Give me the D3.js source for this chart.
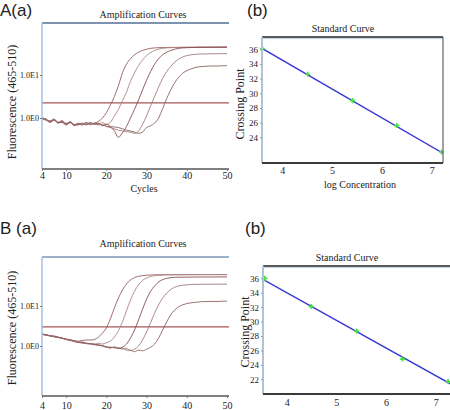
<!DOCTYPE html>
<html>
<head>
<meta charset="utf-8">
<script src="https://cdn.jsdelivr.net/npm/d3@7"></script>
<style>
  body { margin: 0; background: #fff; }
  svg { display: block; }
</style>
</head>
<body>
<div id="chart"></div>
<script>
// cycles 4..50, one fluorescence reading per cycle
const cycles = d3.range(4, 51);

// A(a) amplification curves
const ampA1 = [1.0,0.93,0.83,0.95,0.79,0.87,0.72,0.83,0.69,0.76,0.71,0.79,0.72,0.76,0.83,1.0,1.32,2.0,3.16,5.62,11.2,17.8,24,29.5,33.9,37.2,39.8,41.7,42.7,
  43.2,43.5,43.7,43.7,43.9,44,44,44.2,44,44.2,44.4,44.2,44.4,44.2,44.4,44.2,44.4,44.4];
const ampA2 = [0.95,0.89,0.87,0.91,0.76,0.83,0.76,0.79,0.66,0.72,0.68,0.74,0.69,0.76,0.71,0.79,0.71,0.79,1.12,1.58,2.51,3.98,7.08,11.2,16.6,22.4,28.2,33.1,37.2,39.8,41.7,42.7,
  43.2,43.5,43.7,43.9,44,44.2,44.2,44.4,44.4,44.4,44.6,44.4,44.6,44.6,44.6];
const ampA3 = [1.0,0.91,0.79,0.89,0.79,0.79,0.69,0.79,0.71,0.69,0.76,0.71,0.79,0.72,0.76,0.66,0.72,0.63,0.5,0.355,0.45,0.63,1.0,1.58,2.63,4.47,7.59,12.0,17.8,24,29.5,33.9,37.2,39.8,41.7,42.7,
  43.2,43.5,43.7,43.9,44,44,44.2,44.2,44.2,44.4,44.4];
const ampA4 = [0.98,0.89,0.85,0.93,0.78,0.85,0.74,0.81,0.68,0.74,0.72,0.78,0.71,0.74,0.69,0.72,0.63,0.6,0.56,0.52,0.5,0.48,0.47,0.44,0.5,0.71,1.12,1.91,3.16,5.25,8.32,12.0,15.8,20,23.4,26.3,28.2,29.5,30.2,
  30.6,30.9,30.9,31.2,31.2,31.2,31.4,31.4];
const ampA5 = [1.0,0.95,0.81,0.91,0.76,0.81,0.71,0.78,0.68,0.71,0.74,0.69,0.76,0.71,0.74,0.68,0.65,0.63,0.62,0.6,0.56,0.52,0.5,0.47,0.44,0.47,0.6,0.66,0.76,1.0,1.66,2.82,4.47,6.61,8.91,11.0,12.6,13.8,14.8,15.5,15.8,
  16.0,16.2,16.2,16.2,16.4,16.4];
const thresholdA = 2.24;

// B(a) amplification curves
const ampB1 = [2.0,1.91,1.82,1.74,1.66,1.58,1.48,1.41,1.35,1.32,1.38,1.41,1.41,1.45,1.66,2.09,2.82,4.79,8.91,15.8,25.1,35.5,44.7,51.3,55,57.5,58.9,
  59.5,60,60.3,60.3,60.5,60.5,60.8,60.8,60.8,61,61,61,61,61,61,61,61,61,61,61];
const ampB2 = [1.95,1.86,1.78,1.7,1.62,1.55,1.45,1.38,1.29,1.23,1.17,1.15,1.12,1.12,1.17,1.12,1.2,1.32,1.66,2.4,3.98,7.59,14.1,23.4,33.9,43.7,50.1,55,57.5,58.9,
  59.5,60,60.3,60.3,60.5,60.5,60.5,60.8,60.8,60.8,61,61,61,61,61,61,61];
const ampB3 = [2.0,1.86,1.82,1.7,1.66,1.55,1.48,1.38,1.32,1.23,1.26,1.17,1.15,1.1,1.07,1.02,0.95,0.89,0.95,0.87,0.93,1.12,1.58,2.51,4.47,8.32,14.8,23.4,31.6,39.8,45.7,49,51.3,
  52,52.5,52.5,52.8,52.8,53,53,53,53.2,53.2,53.2,53.2,53.4,53.4];
const ampB4 = [1.95,1.91,1.78,1.74,1.62,1.58,1.45,1.41,1.29,1.26,1.2,1.15,1.12,1.07,1.05,1.0,0.93,0.95,0.89,0.91,0.83,0.89,0.76,0.83,1.0,1.41,2.24,3.8,6.61,10.7,15.8,20.9,25.7,29.5,31.6,33.1,33.9,
  34.3,34.7,34.7,35,35,35,35.2,35.2,35.2,35.2];
const ampB5 = [2.0,1.91,1.78,1.78,1.66,1.58,1.48,1.45,1.35,1.26,1.23,1.17,1.15,1.1,1.05,1.02,0.95,0.91,0.93,0.87,0.89,0.79,0.79,0.72,0.79,0.76,0.83,0.93,1.12,1.58,2.51,3.98,6.03,7.94,9.55,10.7,11.5,12.0,12.3,12.6,
  12.9,12.9,13,13,13,13.2,13.2];
const thresholdB = 3.0;

const cycleTicks = [4, 10, 20, 30, 40, 50];
const fluorTicks = [1, 10];
const fluorLabels = ["1.0E0", "1.0E1"];

// standard curves
const logConcA = [3.6, 4.51, 5.41, 6.30, 7.2];
const crossA = [36.1, 32.6, 29.0, 25.6, 22.0];
const fitConcA = [3.586, 7.233];
const fitCrossA = [36.15, 21.8];
const logConcB = [3.56, 4.49, 5.41, 6.33, 7.25];
const crossB = [36.0, 32.1, 28.7, 24.8, 21.7];
const fitConcB = [3.52, 7.3];
const fitCrossB = [35.86, 21.35];
const concTicks = [4, 5, 6, 7];
const crossTicksA = [24, 26, 28, 30, 32, 34, 36];
const crossTicksB = [22, 24, 26, 28, 30, 32, 34, 36];

const serif = "'Liberation Serif','Times New Roman','DejaVu Serif',serif";
const sans = "'Liberation Sans','DejaVu Sans',sans-serif";
const curveColors = ["#955c5c", "#ac8484", "#8a4c4c", "#a47a7a", "#8e6262"];

const svg = d3.select("#chart").append("svg")
    .attr("width", 450)
    .attr("height", 410)
    .attr("font-family", serif);

function label(txt, x, y, size, family, anchor) {
    return svg.append("text")
        .attr("x", x).attr("y", y)
        .attr("text-anchor", anchor || "middle")
        .attr("font-family", family)
        .attr("font-size", size)
        .attr("fill", "#222")
        .text(txt);
}

function styleAxis(a, size) {
    a.attr("font-family", serif).attr("font-size", size);
    a.select(".domain").remove();
    a.selectAll("text").attr("fill", "#222");
}

function ampPanel(p) {
    const x = d3.scaleLinear().domain([4, 50]).range([p.left, p.left + 185]);
    // log axis: positions of 1.0E0 and 1.0E1
    const y = d3.scaleLog().domain([1, 10]).range([p.y1, p.y10]);
    const g = svg.append("g");

    g.append("clipPath").attr("id", p.id)
      .append("rect")
        .attr("x", p.left).attr("y", p.top)
        .attr("width", p.right - p.left).attr("height", p.bottom - p.top);

    const plot = g.append("g").attr("clip-path", `url(#${p.id})`);

    plot.append("line")
        .attr("x1", p.left).attr("x2", p.right)
        .attr("y1", y(p.threshold)).attr("y2", y(p.threshold))
        .attr("stroke", "#a65656").attr("stroke-width", 1.3);

    const line = d3.line()
        .x((d, i) => x(cycles[i]))
        .y(d => y(d))
        .curve(d3.curveMonotoneX);

    p.series.forEach(function(s, i) {
        plot.append("path")
            .attr("d", line(s))
            .attr("fill", "none")
            .attr("stroke", curveColors[i])
            .attr("stroke-width", 0.9);
    });

    // frame
    g.append("line").attr("x1", p.left).attr("x2", p.right).attr("y1", p.top).attr("y2", p.top)
        .attr("stroke", p.topColor).attr("stroke-width", 2);
    g.append("line").attr("x1", p.left).attr("x2", p.left).attr("y1", p.top).attr("y2", p.bottom)
        .attr("stroke", "#a8c0dc").attr("stroke-width", 1.5);
    g.append("line").attr("x1", p.left).attr("x2", p.right).attr("y1", p.bottom).attr("y2", p.bottom)
        .attr("stroke", "#555").attr("stroke-width", 1.5);

    const xAxis = g.append("g")
        .attr("transform", `translate(0,${p.bottom})`)
        .call(d3.axisBottom(x).tickValues(cycleTicks).tickSize(2).tickPadding(p.xPad));
    const yAxis = g.append("g")
        .attr("transform", `translate(${p.left},0)`)
        .call(d3.axisLeft(y).tickValues(fluorTicks)
            .tickFormat((d, i) => fluorLabels[i]).tickSize(2).tickPadding(1));
    styleAxis(xAxis, 10);
    styleAxis(yAxis, 8);
    xAxis.selectAll("line").attr("stroke", "#777");
    yAxis.selectAll("line").attr("stroke", "#777");

    label("Amplification Curves", 143, p.titleY, 10, serif);
    if (p.xlabel) label("Cycles", 144, p.bottom + 23, 10, serif);
    svg.append("text")
        .attr("transform", `translate(16,${p.ylabelY}) rotate(-90)`)
        .attr("text-anchor", "middle")
        .attr("font-family", serif).attr("font-size", 12)
        .attr("fill", "#222")
        .text("Fluorescence (465-510)");
}

function stdPanel(p) {
    const x = d3.scaleLinear().domain([4, 7]).range(p.xr);
    const y = d3.scaleLinear().domain([p.yd0, 36]).range(p.yr);
    const g = svg.append("g");

    g.append("clipPath").attr("id", p.id)
      .append("rect")
        .attr("x", p.left).attr("y", p.top)
        .attr("width", p.right - p.left).attr("height", p.bottom - p.top);
    const plot = g.append("g").attr("clip-path", `url(#${p.id})`);

    plot.append("line")
        .attr("x1", x(p.fitX[0])).attr("y1", y(p.fitY[0]))
        .attr("x2", x(p.fitX[1])).attr("y2", y(p.fitY[1]))
        .attr("stroke", "#3a3ad6").attr("stroke-width", 1.4);

    g.selectAll(null)
        .data(p.conc)
        .join("path")
        .attr("d", d3.symbol().type(d3.symbolCross).size(14))
        .attr("transform", (d, i) => `translate(${x(d)},${y(p.cross[i])})`)
        .attr("fill", "#46e046");

    // frame
    g.append("line").attr("x1", p.left).attr("x2", p.right).attr("y1", p.top).attr("y2", p.top)
        .attr("stroke", "#5a5a5a").attr("stroke-width", 2);
    g.append("line").attr("x1", p.left).attr("x2", p.right).attr("y1", p.top + 1.6).attr("y2", p.top + 1.6)
        .attr("stroke", "#b4c8dc").attr("stroke-width", 0.8);
    g.append("line").attr("x1", p.right).attr("x2", p.right).attr("y1", p.top).attr("y2", p.bottom)
        .attr("stroke", "#666").attr("stroke-width", 1.2);
    g.append("line").attr("x1", p.left).attr("x2", p.left).attr("y1", p.top).attr("y2", p.bottom)
        .attr("stroke", "#b2c4d4").attr("stroke-width", 2);
    g.append("line").attr("x1", p.left).attr("x2", p.right).attr("y1", p.bottom).attr("y2", p.bottom)
        .attr("stroke", "#3a3a3a").attr("stroke-width", 2);

    const xAxis = g.append("g")
        .attr("transform", `translate(0,${p.bottom})`)
        .call(d3.axisBottom(x).tickValues(concTicks).tickFormat(d3.format("d"))
            .tickSize(0).tickPadding(p.xPad));
    const yAxis = g.append("g")
        .attr("transform", `translate(${p.left},0)`)
        .call(d3.axisLeft(y).tickValues(p.yTicks).tickSize(2).tickPadding(2));
    styleAxis(xAxis, 10);
    styleAxis(yAxis, 9);
    yAxis.selectAll("line").attr("stroke", "#8aa0b4");

    label("Standard Curve", p.titleX, p.titleY, 10, serif);
    if (p.xlabel) label("log Concentration", 360, p.bottom + 25, 10, serif);
    svg.append("text")
        .attr("transform", `translate(${p.ylabelX},${p.ylabelY}) rotate(-90)`)
        .attr("text-anchor", "middle")
        .attr("font-family", serif).attr("font-size", 12)
        .attr("fill", "#222")
        .text("Crossing Point");
}

ampPanel({ id: "clipAa", left: 42, right: 229, top: 23, bottom: 169, y1: 118, y10: 75,
    threshold: thresholdA, series: [ampA1, ampA2, ampA3, ampA4, ampA5], xPad: 1,
    topColor: "#7d93b0", titleY: 18, ylabelY: 102, xlabel: true });
ampPanel({ id: "clipBa", left: 42, right: 229, top: 257, bottom: 396, y1: 346, y10: 306,
    threshold: thresholdB, series: [ampB1, ampB2, ampB3, ampB4, ampB5], xPad: 4,
    topColor: "#9cb2ca", titleY: 247, ylabelY: 328, xlabel: false });

stdPanel({ id: "clipAb", left: 262, right: 443, top: 37, bottom: 163,
    xr: [282.3, 431.7], yd0: 24, yr: [137.3, 49.3], yTicks: crossTicksA, xPad: 4,
    conc: logConcA, cross: crossA, fitX: fitConcA, fitY: fitCrossA,
    titleX: 343, titleY: 32, ylabelX: 244, ylabelY: 104, xlabel: true });
stdPanel({ id: "clipBb", left: 263, right: 452, top: 266, bottom: 394,
    xr: [286.7, 435.7], yd0: 22, yr: [379.3, 278.3], yTicks: crossTicksB, xPad: 5,
    conc: logConcB, cross: crossB, fitX: fitConcB, fitY: fitCrossB,
    titleX: 347, titleY: 261, ylabelX: 249, ylabelY: 332, xlabel: false });

// panel letters
label("A(a)", 0, 16, 17, sans, "start");
label("(b)", 247, 16, 17, sans, "start");
label("B (a)", 0, 234, 17, sans, "start");
label("(b)", 245, 234, 17, sans, "start");
</script>
</body>
</html>
